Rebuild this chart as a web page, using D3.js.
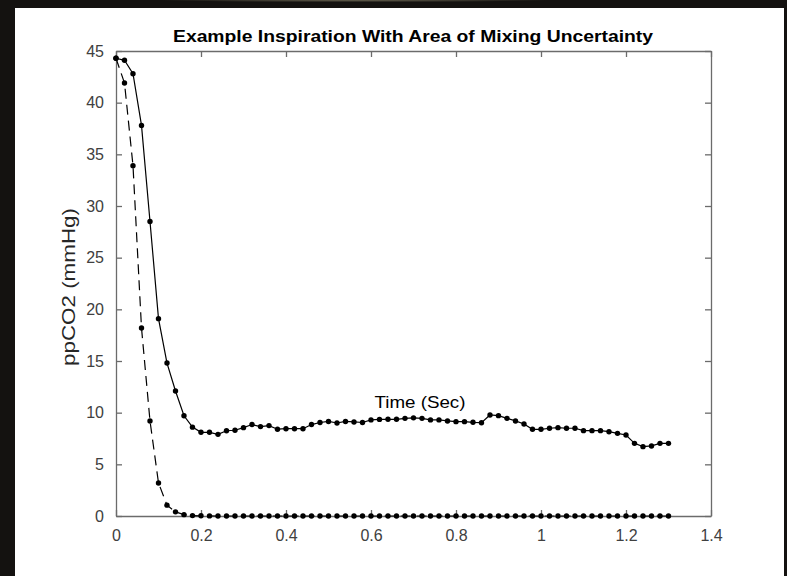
<!DOCTYPE html>
<html>
<head>
<meta charset="utf-8">
<script src="https://cdn.jsdelivr.net/npm/d3@7"></script>
<style>
  html, body { margin: 0; padding: 0; background: #141210; }
  svg { display: block; }
  text { font-family: Arial, "Liberation Sans", Helvetica, sans-serif; }
</style>
</head>
<body>
<svg id="chart" width="787" height="576"></svg>
<script>
// ---- data ----
const titleText = "Example Inspiration With Area of Mixing Uncertainty";
const xLabelText = "Time (Sec)";
const yLabelText = "ppCO2 (mmHg)";
const xTicks = [0, 0.2, 0.4, 0.6, 0.8, 1, 1.2, 1.4];
const yTicks = [0, 5, 10, 15, 20, 25, 30, 35, 40, 45];
const time = [
  0.00, 0.02, 0.04, 0.06, 0.08, 0.10, 0.12, 0.14, 0.16, 0.18,
  0.20, 0.22, 0.24, 0.26, 0.28, 0.30, 0.32, 0.34, 0.36, 0.38,
  0.40, 0.42, 0.44, 0.46, 0.48, 0.50, 0.52, 0.54, 0.56, 0.58,
  0.60, 0.62, 0.64, 0.66, 0.68, 0.70, 0.72, 0.74, 0.76, 0.78,
  0.80, 0.82, 0.84, 0.86, 0.88, 0.90, 0.92, 0.94, 0.96, 0.98,
  1.00, 1.02, 1.04, 1.06, 1.08, 1.10, 1.12, 1.14, 1.16, 1.18,
  1.20, 1.22, 1.24, 1.26, 1.28, 1.30
];
const measured = [
  44.3, 44.1, 42.8, 37.8, 28.5, 19.1, 14.8, 12.1, 9.7, 8.6,
  8.1, 8.1, 7.9, 8.25, 8.3, 8.55, 8.85, 8.65, 8.75, 8.4,
  8.45, 8.45, 8.45, 8.85, 9.05, 9.15, 9.0, 9.15, 9.1, 9.05,
  9.3, 9.35, 9.36, 9.36, 9.45, 9.5, 9.45, 9.3, 9.3, 9.2,
  9.13, 9.13, 9.07, 9.03, 9.78, 9.71, 9.45, 9.2, 8.9, 8.39,
  8.39, 8.49, 8.55, 8.49, 8.49, 8.26, 8.26, 8.26, 8.16, 8.0,
  7.84, 7.03, 6.71, 6.78, 7.03, 7.03
];
const mixed = [
  44.3, 41.9, 33.9, 18.2, 9.2, 3.2, 1.05, 0.4, 0.13, 0.04,
  0.02, 0.01, 0, 0, 0, 0, 0, 0, 0, 0,
  0, 0, 0, 0, 0, 0, 0, 0, 0, 0,
  0, 0, 0, 0, 0, 0, 0, 0, 0, 0,
  0, 0, 0, 0, 0, 0, 0, 0, 0, 0,
  0, 0, 0, 0, 0, 0, 0, 0, 0, 0,
  0, 0, 0, 0, 0, 0
];

// ---- layout ----
const svg = d3.select("#chart");
const W = 787, H = 576;
const plot = { left: 116, right: 711, top: 51, bottom: 516 };
const axisColor = "#6b6b6b";
const tickTextColor = "#404040";

// background "photo" frame and white figure panel
const defs = svg.append("defs");
const rg = defs.append("radialGradient").attr("id", "glow")
  .attr("cx", "0.45").attr("cy", "0").attr("r", "0.25");
rg.append("stop").attr("offset", "0").attr("stop-color", "#6a6552");
rg.append("stop").attr("offset", "1").attr("stop-color", "#141210");
svg.append("rect").attr("x", 0).attr("y", 0).attr("width", W).attr("height", H).attr("fill", "#141210");
svg.append("rect").attr("x", 0).attr("y", 0).attr("width", W).attr("height", 9).attr("fill", "url(#glow)");
svg.append("rect").attr("x", 15).attr("y", 8).attr("width", 769).attr("height", H - 8).attr("fill", "#ffffff");

const x = d3.scaleLinear().domain([0, 1.4]).range([plot.left, plot.right]);
const y = d3.scaleLinear().domain([0, 45]).range([plot.bottom, plot.top]);

const g = svg.append("g");

// axes box with inward ticks on all four sides
function styleAxis(sel) {
  sel.select(".domain").attr("stroke", axisColor).attr("stroke-width", 1.3);
  sel.selectAll(".tick line").attr("stroke", axisColor).attr("stroke-width", 1.3);
  sel.selectAll(".tick text").attr("fill", tickTextColor).style("font-size", "16px");
}
const fmt = d => String(d);
const xb = g.append("g").attr("transform", `translate(0,${plot.bottom})`)
  .call(d3.axisBottom(x).tickValues(xTicks).tickFormat(fmt).tickSizeInner(-6).tickSizeOuter(0).tickPadding(14));
styleAxis(xb);
const xt = g.append("g").attr("transform", `translate(0,${plot.top})`)
  .call(d3.axisTop(x).tickValues(xTicks).tickFormat("").tickSizeInner(-6).tickSizeOuter(0));
styleAxis(xt);
const yl = g.append("g").attr("transform", `translate(${plot.left},0)`)
  .call(d3.axisLeft(y).tickValues(yTicks).tickFormat(fmt).tickSizeInner(-6).tickSizeOuter(0).tickPadding(12));
styleAxis(yl);
const yr = g.append("g").attr("transform", `translate(${plot.right},0)`)
  .call(d3.axisRight(y).tickValues(yTicks).tickFormat("").tickSizeInner(-6).tickSizeOuter(0));
styleAxis(yr);

// series
const measuredData = time.map((t, i) => ({ t, v: measured[i] }));
const mixedData = time.map((t, i) => ({ t, v: mixed[i] }));
const line = d3.line().x(d => x(d.t)).y(d => y(d.v));

g.append("path").datum(mixedData).attr("d", line)
  .attr("fill", "none").attr("stroke", "#000").attr("stroke-width", 1.2)
  .attr("stroke-dasharray", "10,6");
g.append("path").datum(measuredData).attr("d", line)
  .attr("fill", "none").attr("stroke", "#000").attr("stroke-width", 1.2);

g.append("g").selectAll("circle").data(mixedData).join("circle")
  .attr("cx", d => x(d.t)).attr("cy", d => y(d.v)).attr("r", 2.7).attr("fill", "#000");
g.append("g").selectAll("circle").data(measuredData).join("circle")
  .attr("cx", d => x(d.t)).attr("cy", d => y(d.v)).attr("r", 2.7).attr("fill", "#000");

// title
svg.append("text").attr("x", 413).attr("y", 42).attr("text-anchor", "middle")
  .style("font-size", "17px").style("font-weight", "bold").attr("fill", "#000")
  .attr("textLength", 480).attr("lengthAdjust", "spacingAndGlyphs")
  .text(titleText);

// misplaced x label (as in the reference)
svg.append("text").attr("x", 420).attr("y", 408).attr("text-anchor", "middle")
  .style("font-size", "17px").attr("fill", "#000")
  .attr("textLength", 91).attr("lengthAdjust", "spacingAndGlyphs")
  .text(xLabelText);

// y label
svg.append("text").attr("transform", `translate(75,287) rotate(-90)`).attr("text-anchor", "middle")
  .style("font-size", "19px").attr("fill", "#262626")
  .attr("textLength", 158).attr("lengthAdjust", "spacingAndGlyphs")
  .text(yLabelText);
</script>
</body>
</html>
